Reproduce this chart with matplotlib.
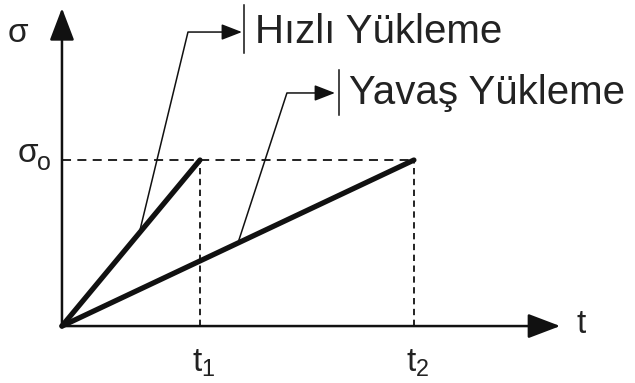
import matplotlib.pyplot as plt

plt.rcParams["font.family"] = ["Liberation Sans", "DejaVu Sans"]
plt.rcParams["mathtext.fontset"] = "custom"
plt.rcParams["mathtext.rm"] = "Liberation Sans"
plt.rcParams["mathtext.it"] = "Liberation Sans"

# loading curves: stress rises linearly to sigma_0
t_fast = [0.0, 1.0]
t_slow = [0.0, 2.55]
sigma = [0.0, 1.0]
sigma_0 = 1.0
t1, t2 = t_fast[1], t_slow[1]

labels = ["Hızlı Yükleme", "Yavaş Yükleme"]

ink = "#111111"

fig = plt.figure(figsize=(6.35, 3.83), dpi=100)
ax = fig.add_axes([0, 0, 1, 1])
ax.set_xlim(-0.449, 4.152)
ax.set_ylim(-0.343, 1.964)
ax.axis("off")

# axes with arrow heads
arrow = dict(arrowstyle="-|>,head_length=1.0,head_width=0.38", color=ink,
             lw=1.8, shrinkA=0, shrinkB=0, mutation_scale=20)
ax.annotate("", xy=(3.61, 0), xytext=(0, 0), arrowprops=arrow)
ax.annotate("", xy=(0, 1.915), xytext=(0, 0), arrowprops=arrow)

# dashed guides to sigma_0, t1, t2
dash = dict(color=ink, lw=1.3, ls=(0, (5, 3.5)))
ax.plot([0, t2], [sigma_0, sigma_0], **dash)
ax.plot([t1, t1], [0, sigma_0], color=ink, lw=1.3, ls=(0, (3.5, 2.5)))
ax.plot([t2, t2], [0, sigma_0], color=ink, lw=1.3, ls=(0, (3.5, 2.5)))

# the two loading lines
ax.plot(t_fast, sigma, color=ink, lw=3.8, solid_capstyle="round")
ax.plot(t_slow, sigma, color=ink, lw=3.8, solid_capstyle="round")

# leader lines from each curve to its label
def leader(frac, t_end, corner, tip, bar, text_x, text):
    x0 = frac * t_end
    y0 = frac * sigma_0
    ax.plot([x0, corner[0], tip[0] - 0.1], [y0, corner[1], tip[1]],
            color=ink, lw=1.1)
    ax.annotate("", xy=tip, xytext=(tip[0] - 0.12, tip[1]),
                arrowprops=dict(arrowstyle="-|>,head_length=0.9,head_width=0.35",
                                color=ink, lw=1.1, shrinkA=0, shrinkB=0,
                                mutation_scale=14))
    ax.plot([bar[0], bar[0]], [bar[1], bar[2]], color=ink, lw=1.1)
    ax.text(text_x, tip[1], text, fontsize=29, color="#222222",
            va="center", ha="left")

leader(0.56, t1, (0.913, 1.771), (1.304, 1.771), (1.319, 1.645, 1.934),
       1.40, labels[0])
leader(0.50, t2, (1.630, 1.404), (1.978, 1.404), (2.007, 1.271, 1.542),
       2.08, labels[1])

# axis symbols
txt = dict(color="#222222", fontsize=24)
ax.text(-0.32, 1.76, "σ", ha="center", va="center", **txt)
ax.text(-0.25, 1.04, "σ", ha="center", va="center", **txt)
ax.text(-0.13, 0.985, "o", ha="center", va="center", color="#222222", fontsize=18)
ax.text(3.76, 0.01, "t", ha="center", va="center", **txt)
ax.text(t1 + 0.03, -0.13, r"$\mathrm{t}_1$", ha="center", va="top", **txt)
ax.text(t2 + 0.03, -0.13, r"$\mathrm{t}_2$", ha="center", va="top", **txt)

fig.savefig("out.png", dpi=100)
